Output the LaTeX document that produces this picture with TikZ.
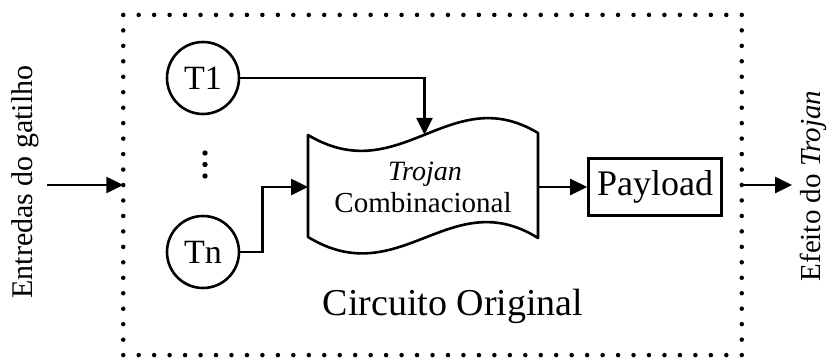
\documentclass[tikz,border=0pt]{standalone}
\usepackage{fontspec}
\setmainfont{Liberation Serif}
\usetikzlibrary{arrows.meta}
\begin{document}
\begin{tikzpicture}[x=1pt,y=-1pt,
  wire/.style={line width=2.6pt},
  arr/.style={wire,-{Triangle[length=17pt,width=16pt]}},
  trig/.style={circle,draw,line width=2.6pt,minimum size=72pt,inner sep=0pt,
               font=\fontsize{34}{36}\selectfont},
  frame/.style={rectangle,draw,line width=4.5pt,line cap=round,
                dash pattern=on 0pt off 15.463pt,
                minimum width=618.5pt,minimum height=340.2pt,inner sep=0pt,outer sep=0pt},
  side/.style={rotate=90,font=\fontsize{30}{32}\selectfont,inner sep=0pt}]
\useasboundingbox (0,0) rectangle (833,359);

% outer dotted boundary of the original circuit
\node[frame] (frame) at (432.5,185) {};
\node[font=\fontsize{38}{40}\selectfont,inner sep=0pt,anchor=base] (orig) at (453,315) {Circuito Original};

% trigger inputs
\node[trig] (t1) at (203,78) {T1};
\node[trig] (tn) at (203,252) {Tn};
\foreach \y in {153,164.5,176} \fill (205,\y) circle (2.7pt);

% combinational trojan (wave-edged block)
\draw[wire,line join=round]
  (308,135) .. controls (400,190) and (450,80) .. (538,133)
  -- (538,238) .. controls (450,183) and (400,293) .. (308,237) -- cycle;
\coordinate (wtop) at (424.5,134.8);
\coordinate (wleft) at (308,187);
\coordinate (wright) at (538,187);
\node[font=\fontsize{28}{30}\selectfont\itshape,inner sep=0pt,anchor=base] (troj) at (425,180) {Trojan};
\node[font=\fontsize{29}{31}\selectfont,inner sep=0pt,anchor=base] (comb) at (423,212) {Combinacional};

% payload
\node[draw,line width=2.6pt,minimum width=133pt,minimum height=57pt,inner sep=0pt,
      font=\fontsize{36}{38}\selectfont] (pay) at (655,187) {Payload};

% connectors
\draw[arr] (t1.east) -| (wtop);
\draw[arr] (tn.east) -- ++(22,0) |- (wleft);
\draw[arr] (wright) -- (pay.west);

% external input and output
\coordinate (inp) at (47,185);
\coordinate (outp) at (792,185);
\draw[arr] (inp) -- (frame.west);
\draw[arr] (frame.east) -- (outp);
\node[side] (lin) at (25,182) {Entredas do gatilho};
\node[side,font=\fontsize{29}{31}\selectfont] (lout) at (813,186) {Efeito do \textit{Trojan}};
\end{tikzpicture}
\end{document}
